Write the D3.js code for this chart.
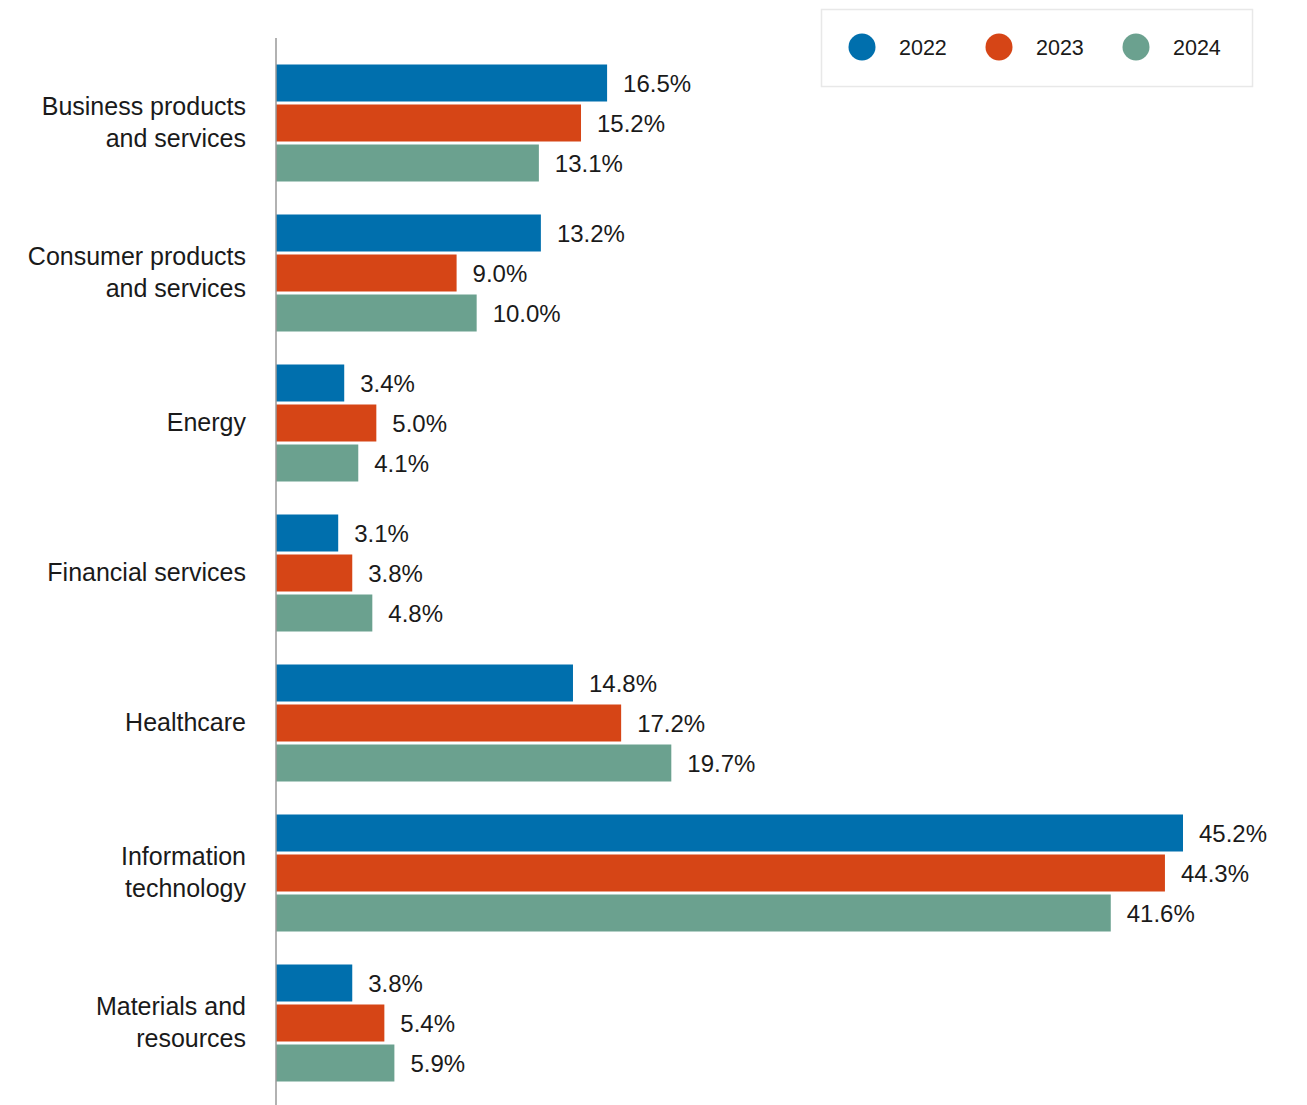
<!DOCTYPE html>
<html>
<head>
<meta charset="utf-8">
<script src="https://cdn.jsdelivr.net/npm/d3@7"></script>
<style>
  html, body { margin: 0; padding: 0; background: #ffffff; }
  svg { display: block; }
</style>
</head>
<body>
<svg id="chart" width="1307" height="1105"></svg>
<script>
// Sector categories (two-line labels split on "\n")
const categories = [
  "Business products\nand services",
  "Consumer products\nand services",
  "Energy",
  "Financial services",
  "Healthcare",
  "Information\ntechnology",
  "Materials and\nresources"
];
const years = ["2022", "2023", "2024"];
const values2022 = [16.5, 13.2, 3.4, 3.1, 14.8, 45.2, 3.8];
const values2023 = [15.2, 9.0, 5.0, 3.8, 17.2, 44.3, 5.4];
const values2024 = [13.1, 10.0, 4.1, 4.8, 19.7, 41.6, 5.9];
const colors = ["#006fad", "#d64516", "#6ba18f"];

const seriesValues = [values2022, values2023, values2024];
const rows = categories.map((c, i) => ({
  category: c,
  values: years.map((y, j) => ({ year: y, value: seriesValues[j][i] }))
}));

const svg = d3.select("#chart");
const fontFamily = "'Liberation Sans', Arial, sans-serif";

const x = d3.scaleLinear()
  .domain([0, 45.2])
  .range([276, 1183]);

const y0 = d3.scaleBand()
  .domain(categories)
  .range([48, 1098])
  .paddingInner(0)
  .paddingOuter(0);

const y1 = d3.scaleBand()
  .domain(years)
  .range([16.5, 133.5])
  .paddingInner(0.075)
  .paddingOuter(0);

const color = d3.scaleOrdinal().domain(years).range(colors);

// Bars and value labels
const groups = svg.append("g")
  .selectAll("g")
  .data(rows)
  .join("g")
  .attr("transform", d => `translate(0,${y0(d.category)})`);

groups.selectAll("rect")
  .data(d => d.values)
  .join("rect")
  .attr("x", x(0))
  .attr("y", d => y1(d.year))
  .attr("width", d => x(d.value) - x(0))
  .attr("height", y1.bandwidth())
  .attr("fill", d => color(d.year));

groups.selectAll("text.value")
  .data(d => d.values)
  .join("text")
  .attr("class", "value")
  .attr("x", d => x(d.value) + 16)
  .attr("y", d => y1(d.year) + y1.bandwidth() / 2 + 0.5)
  .attr("dy", "0.36em")
  .attr("font-family", fontFamily)
  .attr("font-size", 24)
  .attr("fill", "#1a1a1a")
  .text(d => d.value.toFixed(1) + "%");

// Category labels, right-aligned against the axis
const lineH = 32;
const catLabels = svg.append("g")
  .selectAll("text")
  .data(categories)
  .join("text")
  .attr("text-anchor", "end")
  .attr("font-family", fontFamily)
  .attr("font-size", 25)
  .attr("fill", "#1a1a1a")
  .attr("x", 246)
  .attr("y", d => y0(d) + y0.bandwidth() / 2 - 1);

catLabels.each(function(d) {
  const lines = d.split("\n");
  const start = -(lines.length - 1) * lineH / 2 + 8.5;
  d3.select(this).selectAll("tspan")
    .data(lines)
    .join("tspan")
    .attr("x", 246)
    .attr("dy", (l, i) => i === 0 ? start : lineH)
    .text(l => l);
});

// Vertical axis line
svg.append("line")
  .attr("x1", 276).attr("x2", 276)
  .attr("y1", 38).attr("y2", 1105)
  .attr("stroke", "#999999")
  .attr("stroke-width", 1.5);

// Legend
const legend = svg.append("g");
legend.append("rect")
  .attr("x", 821.5).attr("y", 9.5)
  .attr("width", 431).attr("height", 77)
  .attr("fill", "#ffffff")
  .attr("stroke", "#e8e8e8")
  .attr("stroke-width", 1.5);

const legendX = d3.scalePoint().domain(years).range([862, 1136]);
const items = legend.selectAll("g.item")
  .data(years)
  .join("g")
  .attr("class", "item")
  .attr("transform", d => `translate(${legendX(d)},47)`);
items.append("circle")
  .attr("r", 13.5)
  .attr("fill", d => color(d));
items.append("text")
  .attr("x", 37)
  .attr("dy", "0.36em")
  .attr("font-family", fontFamily)
  .attr("font-size", 21.5)
  .attr("fill", "#1a1a1a")
  .text(d => d);
</script>
</body>
</html>
